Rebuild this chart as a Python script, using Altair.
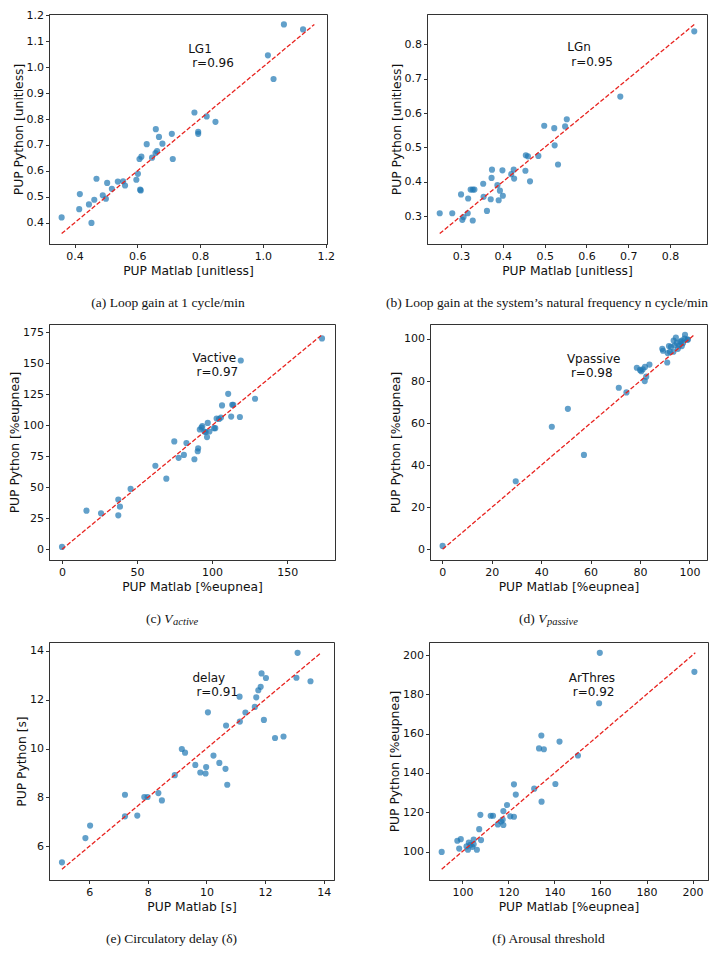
import altair as alt
import pandas as pd

# ---------------- data ----------------
# (a) LG1
lg1_matlab = [0.359, 0.415, 0.417, 0.446, 0.454, 0.463, 0.470, 0.490, 0.500, 0.504, 0.519, 0.538, 0.555,
              0.561, 0.597, 0.602, 0.609, 0.611, 0.607, 0.613, 0.630, 0.647, 0.658, 0.663, 0.659, 0.669,
              0.680, 0.710, 0.713, 0.782, 0.794, 0.794, 0.821, 0.849, 1.016, 1.034, 1.067, 1.128]
lg1_python = [0.421, 0.453, 0.511, 0.471, 0.400, 0.489, 0.570, 0.506, 0.493, 0.554, 0.531, 0.559, 0.560,
              0.544, 0.566, 0.589, 0.528, 0.525, 0.646, 0.655, 0.703, 0.651, 0.669, 0.676, 0.761, 0.731,
              0.705, 0.743, 0.646, 0.825, 0.751, 0.743, 0.810, 0.789, 1.045, 0.954, 1.164, 1.145]
# (b) LGn
lgn_matlab = [0.249, 0.279, 0.300, 0.303, 0.306, 0.316, 0.317, 0.323, 0.328, 0.332, 0.328, 0.353, 0.354,
              0.362, 0.371, 0.373, 0.374, 0.387, 0.390, 0.393, 0.399, 0.400, 0.420, 0.426, 0.427, 0.454,
              0.455, 0.460, 0.465, 0.485, 0.499, 0.523, 0.524, 0.532, 0.549, 0.553, 0.681, 0.858]
lgn_python = [0.308, 0.308, 0.363, 0.289, 0.297, 0.308, 0.351, 0.377, 0.377, 0.377, 0.287, 0.394, 0.356,
              0.315, 0.349, 0.411, 0.435, 0.390, 0.346, 0.374, 0.433, 0.359, 0.422, 0.435, 0.409, 0.432,
              0.477, 0.474, 0.401, 0.475, 0.563, 0.556, 0.506, 0.450, 0.561, 0.582, 0.648, 0.838]
# (c) Vactive
vact_matlab = [0, 16.3, 26.0, 37.5, 37.5, 38.6, 45.7, 62.2, 69.5, 74.8, 77.7, 81.2, 82.9, 88.2, 90.4,
               90.7, 91.8, 92.9, 93.5, 94.9, 95.7, 96.6, 97.1, 98.2, 101.3, 102.1, 103.0, 104.6, 105.9,
               106.6, 110.7, 112.7, 113.4, 114.1, 119.1, 118.5, 128.6, 173.2]
vact_python = [1.9, 31.2, 29.0, 40.2, 27.4, 34.4, 48.7, 67.4, 57.0, 87.1, 73.8, 76.2, 85.8, 72.7, 79.1,
               81.5, 96.7, 98.3, 99.4, 95.1, 94.6, 90.6, 102.0, 95.1, 97.8, 97.8, 105.5, 105.2, 106.3,
               116.1, 125.5, 107.1, 116.7, 116.7, 152.4, 106.8, 121.5, 170.2]
# (d) Vpassive
vpas_matlab = [0.1, 29.7, 44.3, 50.8, 57.3, 71.4, 74.5, 78.7, 80.0, 80.5, 81.1, 82.0, 82.5, 81.9, 83.8,
               89.0, 89.3, 91.0, 91.2, 91.7, 92.1, 92.5, 93.5, 93.6, 94.0, 94.5, 94.9, 95.3, 95.9, 96.3,
               96.9, 96.9, 97.4, 98.0, 98.2, 99.1, 99.4]
vpas_python = [1.7, 32.4, 58.3, 66.8, 44.9, 76.8, 74.6, 86.3, 85.3, 84.7, 85.6, 86.7, 82.1, 80.0, 87.8,
               95.3, 94.4, 88.8, 93.3, 96.6, 93.9, 96.3, 93.9, 99.2, 96.9, 100.6, 98.1, 95.3, 96.9, 98.8,
               96.6, 99.2, 98.1, 100.2, 102.0, 99.7, 99.7]
# (e) delay
delay_matlab = [5.07, 5.87, 6.03, 7.22, 7.22, 7.64, 7.88, 7.99, 8.36, 8.48, 8.92, 9.16, 9.27, 9.62, 9.79,
                9.97, 9.99, 10.05, 10.24, 10.44, 10.65, 10.67, 10.71, 11.13, 11.14, 11.33, 11.65, 11.70,
                11.77, 11.85, 11.88, 11.96, 12.03, 12.34, 12.63, 13.07, 13.11, 13.55]
delay_python = [5.35, 6.34, 6.85, 8.11, 7.23, 7.26, 8.02, 8.02, 8.18, 7.88, 8.91, 9.98, 9.83, 9.33, 9.02,
                8.98, 9.24, 11.48, 9.71, 9.41, 9.17, 10.94, 8.52, 12.12, 11.10, 11.47, 11.70, 12.09,
                12.38, 12.52, 13.07, 11.17, 12.88, 10.43, 10.49, 12.89, 13.91, 12.75]
# (f) ArThres
arth_matlab = [91.0, 97.8, 98.6, 99.3, 101.8, 102.4, 102.8, 103.5, 104.3, 104.9, 104.9, 106.3, 107.3,
               108.1, 107.8, 112.3, 113.3, 115.4, 116.8, 117.5, 117.8, 117.8, 119.4, 120.8, 122.4, 122.4,
               123.2, 131.2, 133.3, 134.3, 134.4, 135.4, 140.4, 142.2, 150.2, 159.4, 159.7, 200.8]
arth_python = [99.8, 105.5, 101.5, 106.3, 102.6, 100.9, 104.6, 103.4, 102.4, 103.7, 106.1, 100.9, 111.4,
               105.8, 118.7, 118.2, 118.2, 113.8, 115.3, 116.2, 113.5, 120.6, 123.7, 117.9, 117.7, 134.2,
               129.0, 132.0, 152.5, 159.1, 125.4, 152.1, 134.4, 156.0, 148.9, 175.5, 201.2, 191.5]

names = ["LG1", "LGn", "Vactive", "Vpassive", "delay", "ArThres"]
r_labels = ["r=0.96", "r=0.95", "r=0.97", "r=0.98", "r=0.91", "r=0.92"]
ann_x = [0.762, 0.554, 86.9, 50.4, 9.52, 146.2]
ann_y = [1.0, 0.737, 139.6, 81.7, 12.13, 179.2]
x_titles = ["PUP Matlab [unitless]", "PUP Matlab [unitless]", "PUP Matlab [%eupnea]",
            "PUP Matlab [%eupnea]", "PUP Matlab [s]", "PUP Matlab [%eupnea]"]
y_titles = ["PUP Python [unitless]", "PUP Python [unitless]", "PUP Python [%eupnea]",
            "PUP Python [%eupnea]", "PUP Python [s]", "PUP Python [%eupnea]"]
x_ticks = [[0.4, 0.6, 0.8, 1.0, 1.2], [0.3, 0.4, 0.5, 0.6, 0.7, 0.8], [0, 50, 100, 150],
           [0, 20, 40, 60, 80, 100], [6, 8, 10, 12, 14], [100, 120, 140, 160, 180, 200]]
y_ticks = [[0.4, 0.5, 0.6, 0.7, 0.8, 0.9, 1.0, 1.1, 1.2], [0.3, 0.4, 0.5, 0.6, 0.7, 0.8],
           [0, 25, 50, 75, 100, 125, 150, 175], [0, 20, 40, 60, 80, 100], [6, 8, 10, 12, 14],
           [100, 120, 140, 160, 180, 200]]
formats = [".1f", ".1f", "d", "d", "d", "d"]
captions = [
    [("(a) Loop gain at 1 cycle/min", "normal", 13.5, 0)],
    [("(b) Loop gain at the system\u2019s natural frequency n cycle/min", "normal", 13.5, 0)],
    [("(c) ", "normal", 13.5, 0), ("V", "italic", 13.5, 0), ("active", "italic", 10.5, 3)],
    [("(d) ", "normal", 13.5, 0), ("V", "italic", 13.5, 0), ("passive", "italic", 10.5, 3)],
    [("(e) Circulatory delay (\u03b4)", "normal", 13.5, 0)],
    [("(f) Arousal threshold", "normal", 13.5, 0)],
]
# approximate segment widths (px) used to centre multi-font captions
seg_widths = {"(c) ": 18.4, "(d) ": 19.1, "V": 8.8, "active": 25.0, "passive": 31.0}

panel_w = [278, 280, 286, 277, 285, 279]
panel_h = [230, 230, 236, 236, 238, 238]

SERIF = "Liberation Serif"
SANS = "DejaVu Sans"


def make_panel(i, xs, ys):
    w, h = panel_w[i], panel_h[i]
    df = pd.DataFrame({"x": xs, "y": ys})
    lo = min(min(xs), min(ys))
    hi = max(max(xs), max(ys))
    pad = 0.05 * (hi - lo)
    dom = [lo - pad, hi + pad]
    sc = alt.Scale(domain=dom, nice=False, zero=False)
    xenc = alt.X("x:Q", scale=sc,
                 axis=alt.Axis(title=x_titles[i], values=x_ticks[i], format=formats[i],
                               labelOverlap=False))
    yenc = alt.Y("y:Q", scale=sc,
                 axis=alt.Axis(title=y_titles[i], values=y_ticks[i], format=formats[i],
                               labelOverlap=False))
    pts = alt.Chart(df).mark_circle(size=38, color="#1f77b4", opacity=0.7).encode(x=xenc, y=yenc)
    line_df = pd.DataFrame({"x": [lo, hi], "y": [lo, hi]})
    line = alt.Chart(line_df).mark_line(color="#e8231f", strokeDash=[4.5, 2],
                                        strokeWidth=1.3).encode(x=xenc, y=yenc)
    ann_df = pd.DataFrame({"x": [ann_x[i]], "y": [ann_y[i]],
                           "n": [names[i]], "r": [r_labels[i]]})
    ann1 = alt.Chart(ann_df).mark_text(align="left", baseline="alphabetic", dy=-14.5,
                                       font=SANS, fontSize=12, color="#111").encode(
        x=xenc, y=yenc, text="n:N")
    ann2 = alt.Chart(ann_df).mark_text(align="left", baseline="alphabetic", dx=4,
                                       font=SANS, fontSize=12, color="#111").encode(
        x=xenc, y=yenc, text="r:N")
    layers = [pts, line, ann1, ann2]
    segs = captions[i]
    cx = w / 2 - 20
    cy = h + 59
    if len(segs) == 1:
        t, style, fs, dy = segs[0]
        layers.append(alt.Chart(pd.DataFrame({"t": [t]})).mark_text(
            align="center", baseline="middle", font=SERIF, fontSize=fs, fontStyle=style,
            color="#111").encode(x=alt.value(cx), y=alt.value(cy), text="t:N"))
    else:
        total = sum(seg_widths[s[0]] for s in segs)
        xpos = cx - total / 2
        for t, style, fs, dy in segs:
            layers.append(alt.Chart(pd.DataFrame({"t": [t]})).mark_text(
                align="left", baseline="middle", font=SERIF, fontSize=fs, fontStyle=style,
                color="#111", dy=dy).encode(x=alt.value(xpos), y=alt.value(cy), text="t:N"))
            xpos += seg_widths[t]
    return alt.layer(*layers).properties(width=w, height=h)


pa = make_panel(0, lg1_matlab, lg1_python)
pb = make_panel(1, lgn_matlab, lgn_python)
pc = make_panel(2, vact_matlab, vact_python)
pd_ = make_panel(3, vpas_matlab, vpas_python)
pe = make_panel(4, delay_matlab, delay_python)
pf = make_panel(5, arth_matlab, arth_python)

row1 = alt.hconcat(pa, pb, spacing=100, bounds="flush")
row2 = alt.hconcat(pc, pd_, spacing=95, bounds="flush")
row3 = alt.hconcat(pe, pf, spacing=95, bounds="flush")

chart = alt.vconcat(row1, row2, row3, spacing=13).properties(
    padding={"left": 0, "right": 1, "top": 0, "bottom": 0}
).configure_view(
    stroke="#333", strokeWidth=1
).configure_axis(
    grid=False, labelFont=SANS, labelFontSize=11, labelColor="#111",
    titleFont=SANS, titleFontSize=12.3, titleFontWeight="normal", titleColor="#111",
    domainColor="#333", tickColor="#333", tickSize=3.5, labelPadding=2.5,
    titlePadding=3, labelFlush=False, labelOverlap=False
).configure_axisY(titlePadding=1, labelPadding=2)

chart.save("out.html", embed_options={"renderer": "svg", "actions": False})
